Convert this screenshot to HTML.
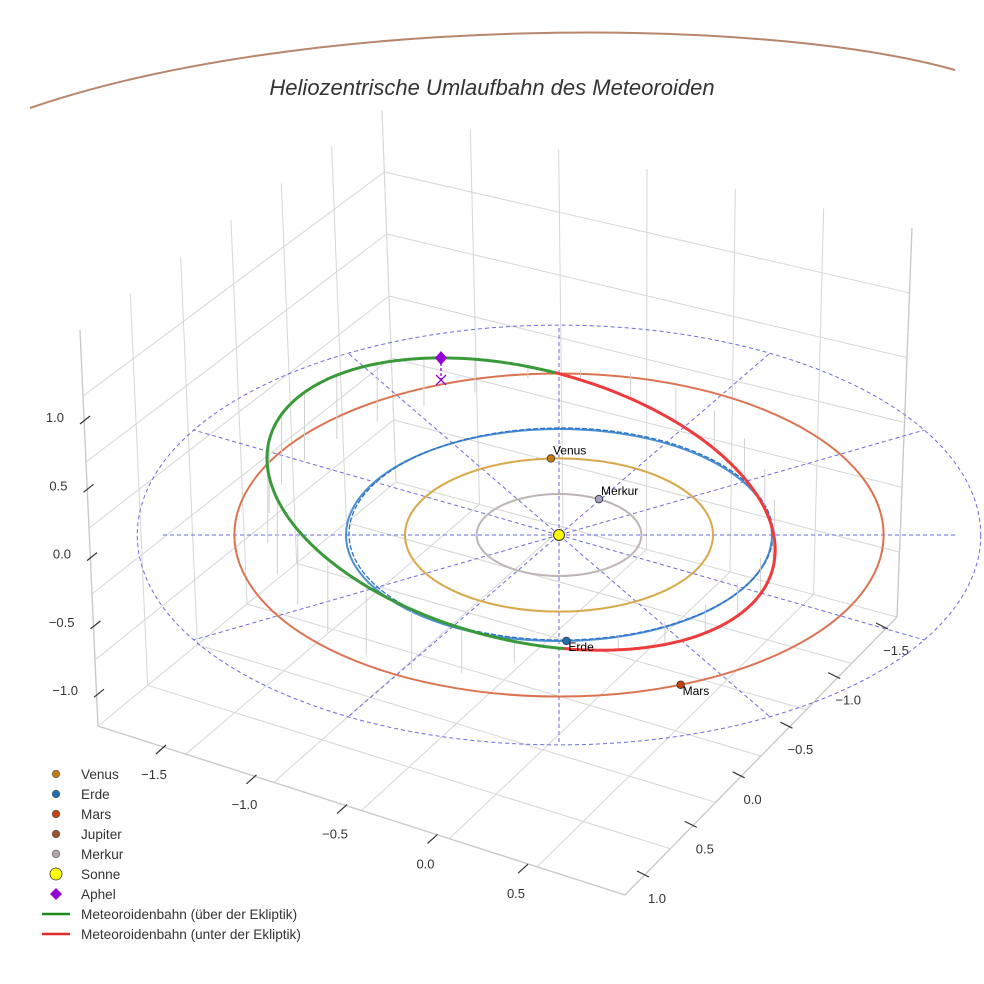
<!DOCTYPE html>
<html><head><meta charset="utf-8"><style>
html,body{margin:0;padding:0;background:#fff;}
svg{display:block;font-family:"Liberation Sans",sans-serif;}
</style></head><body>
<svg id="chart" width="984" height="984" viewBox="0 0 984 984" xmlns="http://www.w3.org/2000/svg">
<rect width="984" height="984" fill="#fff"/>
<g id="box"></g>
<g id="marks"></g>
<text x="492" y="95" text-anchor="middle" font-size="22" font-style="italic" fill="#333">Heliozentrische Umlaufbahn des Meteoroiden</text>
<g id="legend"></g>
</svg>
<script>
const orbitNames = ["Merkur","Venus","Erde","Mars"];
const orbitRadii = [0.387,0.723,1.0,1.524];
const orbitColors = ["#bdb5b5","#d9a84a","#4a90d0","#dc7350"];
const planetAngles = [61,93,-88,-68];
const planetColors = ["#a8a0c0","#c47a10","#1f6fb0","#c8400c"];
const zTicks = ["1.0","0.5","0.0","−0.5","−1.0"];
const xTicks = ["−1.5","−1.0","−0.5","0.0","0.5"];
const yTicks = ["−1.5","−1.0","−0.5","0.0","0.5","1.0"];
// meteoroid projected orbit ellipse (in AU units on ecliptic view)
const meteorCenter = [-0.178, 0.292];
const meteorSemiAxes = [1.22, 1.28];
const meteorTiltDeg = 14.2;
const meteorNodesDeg = [-77, 73];
const aphelU = -0.554, aphelV = 1.67;
const refRadius = 1.98;

const NS="http://www.w3.org/2000/svg";
const CX=559, CY=535, SX=213, SY=106;
const px=u=>CX+SX*u, py=v=>CY-SY*v;
function mk(tag,attrs,parent){const e=document.createElementNS(NS,tag);for(const k in attrs)e.setAttribute(k,attrs[k]);parent.appendChild(e);return e;}
const box=document.getElementById('box'), marks=document.getElementById('marks'), leg=document.getElementById('legend');

const TL=[80,330],TB=[382,110],TR=[912,228],BL=[98,726],BB=[396,482],BR=[897,617],BF=[625,895];
const lerp=(a,b,t)=>[a[0]+(b[0]-a[0])*t,a[1]+(b[1]-a[1])*t];
function ln(a,b,st,w){return mk('line',{x1:a[0],y1:a[1],x2:b[0],y2:b[1],stroke:st,'stroke-width':w},box);}
for(let i=0;i<=6;i++){const t=i/6;
 let e=ln(lerp(TL,TB,t),lerp(BL,BB,t),'#d6d6d6',1);
 e=ln(lerp(TB,TR,t),lerp(BB,BR,t),'#d6d6d6',1);
 e=ln(lerp(BL,BF,t),lerp(BB,BR,t),'#d6d6d6',1);
 e=ln(lerp(BB,BL,t),lerp(BR,BF,t),'#d6d6d6',1);
}
for(let i=1;i<=5;i++){const t=i/6;
 let e=ln(lerp(TL,BL,t),lerp(TB,BB,t),'#d6d6d6',1);
 e=ln(lerp(TB,BB,t),lerp(TR,BR,t),'#d6d6d6',1);
}
[[TL,BL],[BL,BF],[BF,BR],[TR,BR]].forEach(p=>{const e=ln(p[0],p[1],'#c8c8c8',1.3);});
zTicks.forEach((s,i)=>{const y=416+i*68.3,x=52+i*3.5;
 const e=mk('line',{x1:x+28,y1:y+8,x2:x+38,y2:y,stroke:'#333','stroke-width':1.2},box);
 const t=mk('text',{x:x+12,y:y+6,'text-anchor':'end','font-size':13,fill:'#333'},box);t.textContent=s;});
xTicks.forEach((s,i)=>{const x=154+i*90.5,y=774+i*29.8;
 const e=mk('line',{x1:x+2,y1:y-20,x2:x+12,y2:y-29,stroke:'#333','stroke-width':1.2},box);
 const t=mk('text',{x:x,y:y+5,'text-anchor':'middle','font-size':13,fill:'#333'},box);t.textContent=s;});
yTicks.forEach((s,i)=>{const x=896-i*47.8,y=650+i*49.6;
 const e=mk('line',{x1:x-20,y1:y-27,x2:x-8,y2:y-21,stroke:'#333','stroke-width':1.2},box);
 const t=mk('text',{x:x,y:y+5,'text-anchor':'middle','font-size':13,fill:'#333'},box);t.textContent=s;});

let e=mk('path',{d:'M30,108 C300,15 760,15 955,70',fill:'none',stroke:'#b8866b','stroke-width':2},marks);


e=mk('ellipse',{cx:CX,cy:CY,rx:SX*refRadius,ry:SY*refRadius,fill:'none',stroke:'#6a6ae0','stroke-width':1,'stroke-dasharray':'4 3'},marks);

for(let a=0;a<360;a+=30){const r=a%180===0?1.86:refRadius;const rad=a*Math.PI/180;
 e=mk('line',{x1:CX,y1:CY,x2:px(r*Math.cos(rad)),y2:py(r*Math.sin(rad)),stroke:'#6a6ae0','stroke-width':1,'stroke-dasharray':'4 3'},marks);
 }

orbitRadii.forEach((r,i)=>{
 e=mk('ellipse',{cx:CX,cy:CY,rx:SX*r,ry:SY*r,fill:'none',stroke:orbitColors[i],'stroke-width':2},marks);
 
 if(i===2){e=mk('ellipse',{cx:CX+2,cy:CY-1,rx:SX*r-1,ry:SY*r,fill:'none',stroke:'#2c6fd0','stroke-width':1.3,'stroke-dasharray':'5 2'},marks);
  }
});

// meteoroid ellipse in screen space
const mcx=px(meteorCenter[0]), mcy=py(meteorCenter[1]);
const A=meteorSemiAxes[0]*SX, B=meteorSemiAxes[1]*SY, th=meteorTiltDeg*Math.PI/180;
const pts=[];
for(let k=0;k<=360;k++){const t=k*Math.PI/180;
 const x=mcx+A*Math.cos(t)*Math.cos(th)-B*Math.sin(t)*Math.sin(th);
 const y=mcy+A*Math.cos(t)*Math.sin(th)+B*Math.sin(t)*Math.cos(th);
 const phi=Math.atan2(y-mcy,x-mcx)*180/Math.PI;
 pts.push([x,y,phi>meteorNodesDeg[0]&&phi<meteorNodesDeg[1]]);}
// stems
pts.forEach((p,k)=>{if(k%12)return;const phi=Math.atan2(p[1]-mcy,p[0]-mcx)*180/Math.PI;
 let z;
 if(p[2]){z=-Math.sin((phi-meteorNodesDeg[0])/(meteorNodesDeg[1]-meteorNodesDeg[0])*Math.PI)*40;}
 else{let a=phi<0?phi+360:phi;z=Math.sin((a-meteorNodesDeg[1])/(360+meteorNodesDeg[0]-meteorNodesDeg[1])*Math.PI)*75;}
 e=mk('line',{x1:p[0],y1:p[1],x2:p[0],y2:p[1]+z,stroke:'#d0d0d0','stroke-width':1},marks);
 });
let dA='',dB='';
for(let k=0;k<360;k++){const a=pts[k],b=pts[k+1];const seg=`M${a[0].toFixed(1)},${a[1].toFixed(1)}L${b[0].toFixed(1)},${b[1].toFixed(1)}`;
 if(a[2])dB+=seg;else dA+=seg;}
e=mk('path',{d:dB,fill:'none',stroke:'#ee3b3b','stroke-width':3,'stroke-linecap':'round'},marks);

e=mk('path',{d:dA,fill:'none',stroke:'#3a9a3a','stroke-width':3,'stroke-linecap':'round'},marks);


const ax=px(aphelU),ay=py(aphelV);
e=mk('line',{x1:ax,y1:ay,x2:ax,y2:ay+22,stroke:'#9400d3','stroke-width':1.3,'stroke-dasharray':'3 2'},marks);
e=mk('path',{d:`M${ax-5},${ay+17} L${ax+5},${ay+27} M${ax+5},${ay+17} L${ax-5},${ay+27}`,stroke:'#9400d3','stroke-width':1.3},marks);
e=mk('path',{d:`M${ax},${ay-7} L${ax+6},${ay} L${ax},${ay+7} L${ax-6},${ay} Z`,fill:'#9400d3'},marks);

orbitRadii.forEach((r,i)=>{const a=planetAngles[i]*Math.PI/180,x=px(r*Math.cos(a)),y=py(r*Math.sin(a));
 e=mk('circle',{cx:x,cy:y,r:3.8,fill:planetColors[i],stroke:'#333','stroke-width':0.8},marks);
 const t=mk('text',{x:x+2,y:y+(i===2||i===3?10:-4),'font-size':12,fill:'#000'},marks);t.textContent=orbitNames[i];});
e=mk('circle',{cx:CX,cy:CY,r:5.5,fill:'#ffff00',stroke:'#333','stroke-width':1},marks);

const legNames=["Venus","Erde","Mars","Jupiter","Merkur","Sonne","Aphel","Meteoroidenbahn (über der Ekliptik)","Meteoroidenbahn (unter der Ekliptik)"];
const legColors=["#c47a10","#1f6fb0","#c8400c","#a0522d","#b0a8a8","#ffff00","#9400d3","#1e8a1e","#e02a2a"];
legNames.forEach((n,i)=>{const y=774+i*20;
 if(i===5){e=mk('circle',{cx:56,cy:y,r:6,fill:legColors[i],stroke:'#333','stroke-width':0.8},leg);}
 else if(i===6){e=mk('path',{d:`M56,${y-6} L62,${y} L56,${y+6} L50,${y} Z`,fill:legColors[i]},leg);}
 else if(i>6){e=mk('line',{x1:42,y1:y,x2:70,y2:y,stroke:legColors[i],'stroke-width':2.5},leg);}
 else {e=mk('circle',{cx:56,cy:y,r:3.8,fill:legColors[i],stroke:'#555','stroke-width':0.6},leg);}
 
 const t=mk('text',{x:81,y:y+5,'font-size':13.6,fill:'#333'},leg);t.textContent=n;});
</script>
</body></html>
